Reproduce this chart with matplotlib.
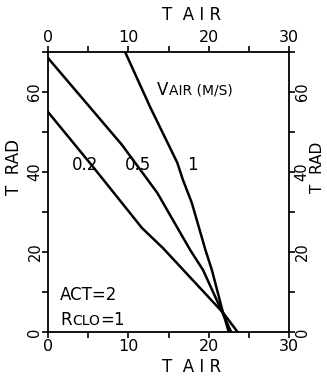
import matplotlib
matplotlib.use("Agg")
import matplotlib.pyplot as plt
from matplotlib.ticker import MultipleLocator
from matplotlib.transforms import offset_copy

plt.rcParams['font.family'] = ['DejaVu Sans']

# Comfort lines: radiant temperature vs air temperature for each air speed
speed_labels = ["0.2", "0.5", "1"]
tair_02 = [0.0, 5.6, 11.7, 14.3, 21.8, 23.6]
trad_02 = [55.0, 41.3, 26.0, 21.0, 4.8, 0.0]
tair_05 = [0.0, 9.2, 13.6, 17.7, 19.3, 21.0, 22.8]
trad_05 = [68.5, 46.8, 34.8, 20.5, 15.5, 8.0, 0.0]
tair_1 = [9.6, 12.7, 16.1, 16.8, 17.9, 19.6, 20.4, 21.7, 22.5]
trad_1 = [70.0, 56.3, 42.3, 38.0, 32.3, 20.5, 15.5, 5.5, 0.0]

xticks = [0, 10, 20, 30]
yticks = [0, 20, 40, 60]

fig = plt.figure(figsize=(3.27, 3.76), dpi=100)
ax = fig.add_axes([48/327, 44/376, 241/327, 280/376])

for xs, ys in [(tair_02, trad_02), (tair_05, trad_05), (tair_1, trad_1)]:
    ax.plot(xs, ys, color="black", lw=1.8, solid_joinstyle="round")

ax.set_xlim(0, 30)
ax.set_ylim(0, 70)
ax.set_xticks(xticks)
ax.set_yticks(yticks)
ax.xaxis.set_minor_locator(MultipleLocator(5))
ax.yaxis.set_minor_locator(MultipleLocator(10))

for sp in ax.spines.values():
    sp.set_linewidth(1.3)

ax.tick_params(which="both", direction="out", length=4, width=1.2,
               top=True, right=True)
ax.tick_params(axis="x", labeltop=True, labelsize=11.5, pad=1)
ax.tick_params(axis="y", labelright=True, labelsize=10.5, pad=0)
for t in ax.yaxis.get_major_ticks():
    t.label1.set_rotation(90)
    t.label1.set_va("center")
    t.label2.set_rotation(90)
    t.label2.set_va("center")

fs = 12
fig.text(192/327, 1 - 367/376, "T  A I R", ha="center", va="center", fontsize=fs)
fig.text(192/327, 1 - 15/376, "T  A I R", ha="center", va="center", fontsize=fs)
fig.text(14/327, 1 - 167/376, "T  RAD", ha="center", va="center", fontsize=fs, rotation=90)
fig.text(318/327, 1 - 167/376, "T  RAD", ha="center", va="center", fontsize=11, rotation=90)

fig.canvas.draw()
renderer = fig.canvas.get_renderer()


def small_caps(x, y, parts):
    """Draw consecutive text pieces (text, size) starting at data point x, y."""
    dx = 0.0
    for txt, size in parts:
        tr = offset_copy(ax.transData, fig=fig, x=dx, y=0, units="dots")
        t = ax.text(x, y, txt, fontsize=size, ha="left", va="baseline", transform=tr)
        w = t.get_window_extent(renderer=renderer).width
        dx += w + 0.5


# speed header with small capitals
small_caps(13.6, 59.3, [("V", 12), ("AIR (M/S)", 10)])

for lab, x in zip(speed_labels, [3.0, 9.6, 17.3]):
    ax.text(x, 40.5, lab, fontsize=12, ha="left", va="baseline")

ax.text(1.5, 8.0, "ACT=2", fontsize=12, ha="left", va="baseline")
small_caps(1.5, 1.8, [("R", 12), ("CLO", 10), ("=1", 12)])

fig.savefig("out.png", dpi=100)
